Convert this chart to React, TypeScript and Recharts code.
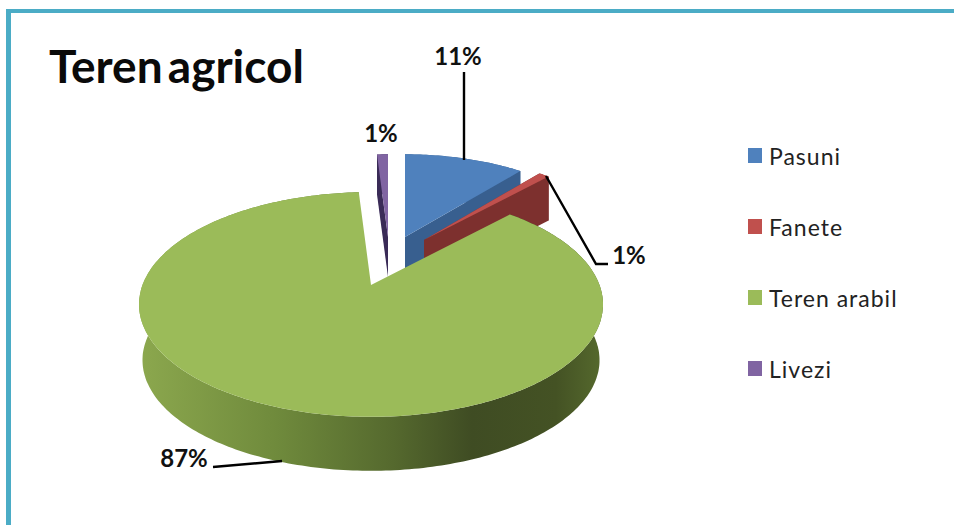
import { PieChart, Pie, Legend } from "recharts"

const categories = ["Pasuni", "Fanete", "Teren arabil", "Livezi"]
const values = [11, 1, 87, 1]

const topColors = ["#4f81bd", "#c0504d", "#9bbb59", "#8064a2"]
const wallColors = ["#385f8f", "#7d302e", "url(#greenWall)", "#3a2b57"]

// exploded slices sit further back, so each one has its own apex and size
const sliceLook = [
  { ax: 405, ay: 237, r: 205, b: 97, depth: 44, shrink: 1, cutWalls: true },
  { ax: 424, ay: 240, r: 205, b: 98, depth: 44, shrink: 1, cutWalls: true },
  { ax: 371, ay: 285, r: 228.5, b: 109, depth: 56, shrink: 0.985, cutWalls: false },
  { ax: 388, ay: 237, r: 205, b: 97, depth: 40, shrink: 1, cutWalls: true },
]

const labelLook = [
  { x: 458, y: 65, line: "464,72 464,160" },
  { x: 629, y: 264, line: "546,176 596,264 608,264" },
  { x: 184, y: 467, line: "213,467 282,461" },
  { x: 381, y: 142, line: "" },
]

const tableData = categories.map((name, i) => ({ name, value: values[i], fill: topColors[i] }))

const PERSPECTIVE = 0.173

// project a point on the flat pie onto the tilted picture plane
function project(angle: number, look: (typeof sliceLook)[number], grow = 1, drop = 0) {
  const rad = (angle * Math.PI) / 180
  const u = Math.cos(rad)
  const v = -Math.sin(rad)
  const w = 1 - PERSPECTIVE * v
  return [look.ax + (look.r * grow * u) / w, look.ay + drop + (look.b * grow * v) / w]
}

function arcPoints(start: number, end: number, look: (typeof sliceLook)[number], grow = 1, drop = 0) {
  const steps = Math.max(2, Math.ceil(Math.abs(end - start)))
  const pts = []
  for (let i = 0; i <= steps; i++) {
    pts.push(project(start + ((end - start) * i) / steps, look, grow, drop))
  }
  return pts
}

const toPath = (pts: number[][]) => "M" + pts.map((p) => `${p[0].toFixed(1)},${p[1].toFixed(1)}`).join("L") + "Z"

function Slice3D(props: any) {
  const { startAngle, endAngle, index } = props
  const look = sliceLook[index]
  const apex = [look.ax, look.ay]
  const top = arcPoints(startAngle, endAngle, look)
  const bottom = arcPoints(startAngle, endAngle, look, look.shrink, look.depth)
  const cut = (p: number[]) => [apex, p, [p[0], p[1] + look.depth], [apex[0], apex[1] + look.depth]]

  return (
    <g>
      <defs>
        <linearGradient id="greenWall" gradientUnits="userSpaceOnUse" x1="138" y1="0" x2="602" y2="0">
          <stop offset="0" stopColor="#8ca84e" />
          <stop offset="0.3" stopColor="#6f8a3c" />
          <stop offset="0.55" stopColor="#55692e" />
          <stop offset="0.72" stopColor="#3f4c23" />
          <stop offset="0.9" stopColor="#445224" />
          <stop offset="1" stopColor="#55692d" />
        </linearGradient>
      </defs>
      <path d={toPath([...top, ...[...bottom].reverse()])} fill={wallColors[index]} />
      {look.cutWalls && <path d={toPath(cut(top[0]))} fill={wallColors[index]} />}
      {look.cutWalls && <path d={toPath(cut(top[top.length - 1]))} fill={wallColors[index]} />}
      <path d={toPath([apex, ...top])} fill={topColors[index]} />
    </g>
  )
}

function SliceLabel(props: any) {
  const { index, value } = props
  const look = labelLook[index]
  return (
    <g>
      {look.line && <polyline points={look.line} fill="none" stroke="#000" strokeWidth={2.4} />}
      <text x={look.x} y={look.y} textAnchor="middle" fontFamily="Lato" fontWeight={700} fontSize={24} fill="#111">
        {`${value}%`}
      </text>
    </g>
  )
}

function LegendList({ payload }: any) {
  return (
    <div>
      {(payload || []).map((entry: any) => (
        <div key={entry.value} style={{ height: 71, display: "flex", alignItems: "center" }}>
          <span style={{ width: 14, height: 15, background: entry.payload.fill, marginRight: 7 }} />
          <span style={{ fontFamily: "Lato", fontSize: 23, color: "#222", letterSpacing: 1 }}>{entry.value}</span>
        </div>
      ))}
    </div>
  )
}

export default function App() {
  return (
    <div style={{ position: "absolute", left: 0, top: 0, width: 954, height: 525, overflow: "hidden", background: "#fff" }}>
      <div
        style={{
          position: "absolute",
          left: 6,
          top: 9,
          width: 948,
          height: 516,
          boxSizing: "border-box",
          borderTop: "4px solid #4bacc6",
          borderLeft: "5px solid #4bacc6",
        }}
      />
      <div
        style={{
          position: "absolute",
          left: 49,
          top: 37,
          fontFamily: "Lato",
          fontWeight: 700,
          fontSize: 46,
          lineHeight: "58px",
          wordSpacing: -6,
          color: "#0a0a0a",
        }}
      >
        Teren agricol
      </div>
      <PieChart width={954} height={525} margin={{ top: 0, right: 0, bottom: 0, left: 0 }}>
        <Pie
          data={tableData}
          dataKey="value"
          nameKey="name"
          cx={370}
          cy={304}
          outerRadius={112}
          startAngle={90}
          endAngle={-270}
          stroke="none"
          isAnimationActive={false}
          shape={Slice3D}
          label={SliceLabel}
          labelLine={false}
        />
        <Legend
          content={LegendList}
          itemSorter={null}
          wrapperStyle={{ left: 748, top: 120, width: 200, bottom: "auto" }}
        />
      </PieChart>
    </div>
  )
}
